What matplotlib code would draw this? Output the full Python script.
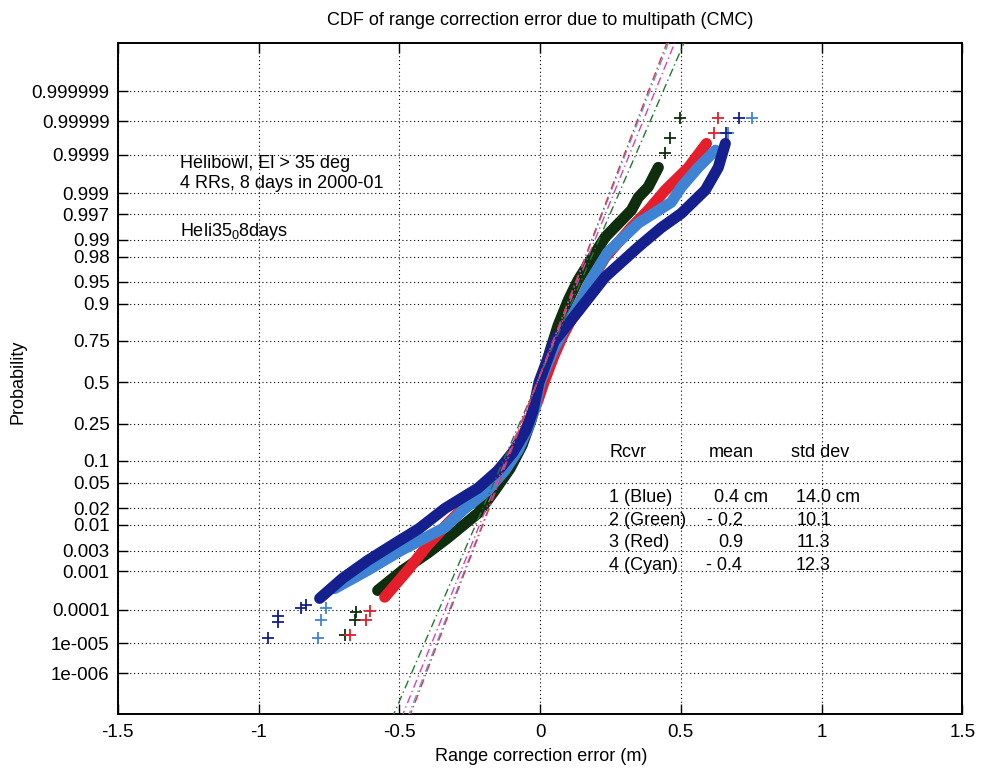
import math
import numpy as np
import matplotlib
matplotlib.use("Agg")
import matplotlib.pyplot as plt
from matplotlib.ticker import FixedLocator, NullLocator

plt.rcParams['font.family'] = ['Liberation Sans', 'DejaVu Sans']
plt.rcParams['mathtext.fontset'] = 'custom'
plt.rcParams['mathtext.rm'] = 'Liberation Sans'

# ---- data (x in metres, y as cumulative probability) ----
blue_x = [-0.783, -0.701, -0.612, -0.515, -0.43, -0.338, -0.221, -0.149, -0.096, -0.050,
          -0.025, -0.004, 0.05, 0.11, 0.231, 0.349, 0.43, 0.502, 0.587, 0.633, 0.658]
blue_p = [2.08e-4, 6.87e-4, 1.81e-3, 4.27e-3, 8.43e-3, 0.0197, 0.0418, 0.0749, 0.127, 0.2177,
          0.3228, 0.5, 0.7486, 0.8438, 0.9573, 0.98645, 0.9942, 0.99711, 0.999155, 0.999776, 0.999952]
blue_tail_x = [-0.968, -0.932, -0.932, -0.851, -0.833, 0.662, 0.705]
blue_tail_p = [1.52e-5, 4.43e-5, 6.95e-5, 1.17e-4, 1.36e-4, 0.9999765, 0.9999918]

cyan_x = [-0.73, -0.612, -0.495, -0.338, -0.274, -0.185, -0.125, -0.078, -0.043, -0.018,
          0.0, 0.046, 0.093, 0.146, 0.18, 0.24, 0.349, 0.466, 0.502, 0.562, 0.623]
cyan_p = [3.76e-4, 1.07e-3, 2.98e-3, 8.9e-3, 0.0183, 0.0392, 0.0749, 0.1335, 0.2266, 0.3372,
          0.5, 0.6985, 0.8238, 0.9099, 0.9525, 0.983, 0.99534, 0.99836, 0.999289, 0.999776, 0.999925]
cyan_tail_x = [-0.79, -0.779, -0.762, 0.669, 0.751]
cyan_tail_p = [1.52e-5, 5.0e-5, 1.12e-4, 0.9999765, 0.9999918]

red_x = [-0.552, -0.47, -0.399, -0.327, -0.256, -0.185, -0.125, -0.078, -0.036, -0.007,
         0.014, 0.05, 0.082, 0.128, 0.171, 0.231, 0.324, 0.384, 0.445, 0.527, 0.573, 0.591]
red_p = [2.24e-4, 1.07e-3, 3.91e-3, 0.0107, 0.0239, 0.0516, 0.0951, 0.1515, 0.2676, 0.3859,
         0.5, 0.67, 0.7794, 0.881, 0.9429, 0.9793, 0.9943, 0.99752, 0.999155, 0.999776, 0.999925, 0.999952]
red_tail_x = [-0.676, -0.619, -0.605, 0.616, 0.633]
red_tail_p = [1.81e-5, 5.0e-5, 9.57e-5, 0.9999765, 0.9999918]

green_x = [-0.577, -0.488, -0.399, -0.33, -0.221, -0.16, -0.107, -0.064, -0.032, -0.007,
           0.011, 0.036, 0.064, 0.1, 0.135, 0.231, 0.324, 0.349, 0.384, 0.42]
green_p = [3.37e-4, 1.07e-3, 2.64e-3, 5.39e-3, 0.0162, 0.0392, 0.0793, 0.1515, 0.2676, 0.4168,
           0.5438, 0.6985, 0.8238, 0.9099, 0.9525, 0.9911, 0.99752, 0.99874, 0.999289, 0.999776]
green_tail_x = [-0.694, -0.658, -0.655, 0.445, 0.463, 0.498]
green_tail_p = [1.81e-5, 5.0e-5, 8.5e-5, 0.999908, 0.999968, 0.9999918]

# dashed reference lines: x at p = 1e-9 and p = 1 - 1e-9
fit_p = [1e-9, 1 - 1e-9]
fit_green_x = [-0.574, 0.554]
fit_magenta_x = [-0.538, 0.518]
fit_cyan_x = [-0.514, 0.494]
fit_red_x = [-0.508, 0.488]

ytick_vals = [1e-6, 1e-5, 1e-4, 1e-3, 3e-3, 0.01, 0.02, 0.05, 0.1, 0.25, 0.5, 0.75,
              0.9, 0.95, 0.98, 0.99, 0.997, 0.999, 0.9999, 0.99999, 0.999999]
ytick_labels = ['1e-006', '1e-005', '0.0001', '0.001', '0.003', '0.01', '0.02', '0.05',
                '0.1', '0.25', '0.5', '0.75', '0.9', '0.95', '0.98', '0.99', '0.997',
                '0.999', '0.9999', '0.99999', '0.999999']
xtick_vals = [-1.5, -1, -0.5, 0, 0.5, 1, 1.5]
xtick_labels = ['-1.5', '-1', '-0.5', '0', '0.5', '1', '1.5']

rcvr_labels = ['1 (Blue)', '2 (Green)', '3 (Red)', '4 (Cyan)']
mean_labels = ['0.4 cm', '- 0.2', '0.9', '- 0.4']
std_labels = ['14.0 cm', '10.1', '11.3', '12.3']


# ---- normal probability scale ----
_a = [-3.969683028665376e+01, 2.209460984245205e+02, -2.759285104469687e+02,
      1.383577518672690e+02, -3.066479806614716e+01, 2.506628277459239e+00]
_b = [-5.447609879822406e+01, 1.615858368580409e+02, -1.556989798598866e+02,
      6.680131188771972e+01, -1.328068155288572e+01]
_c = [-7.784894002430293e-03, -3.223964580411365e-01, -2.400758277161838e+00,
      -2.549671669598563e+00, 4.374664141464968e+00, 2.938163982698783e+00]
_d = [7.784695709041462e-03, 3.224671290700398e-01, 2.445134137142996e+00,
      3.754408661907416e+00]

_erfc = np.vectorize(math.erfc)


def norm_cdf(z):
    z = np.asarray(z, dtype=float)
    return 0.5 * _erfc(-z / math.sqrt(2.0))


def probit(p):
    p = np.clip(np.asarray(p, dtype=float), 1e-300, 1 - 1e-16)
    q = p - 0.5
    r = q * q
    mid = (((((_a[0]*r + _a[1])*r + _a[2])*r + _a[3])*r + _a[4])*r + _a[5]) * q / \
          (((((_b[0]*r + _b[1])*r + _b[2])*r + _b[3])*r + _b[4])*r + 1)
    t = np.sqrt(-2 * np.log(np.minimum(p, 1 - p)))
    tail = (((((_c[0]*t + _c[1])*t + _c[2])*t + _c[3])*t + _c[4])*t + _c[5]) / \
           ((((_d[0]*t + _d[1])*t + _d[2])*t + _d[3])*t + 1)
    tail = np.where(p < 0.5, tail, -tail)
    return np.where(np.abs(q) <= 0.5 - 0.02425, mid, tail)


fig = plt.figure(figsize=(9.82, 7.70), dpi=100)
ax = fig.add_axes([0.120, 0.0727, 0.860, 0.8714])
ax.set_yscale('function', functions=(probit, norm_cdf))

series = [
    (green_x, green_p, green_tail_x, green_tail_p, '#0e2e0e'),
    (red_x, red_p, red_tail_x, red_tail_p, '#e41e2a'),
    (cyan_x, cyan_p, cyan_tail_x, cyan_tail_p, '#3f84d4'),
    (blue_x, blue_p, blue_tail_x, blue_tail_p, '#15208e'),
]
for bx, bp, tx, tp, col in series:
    ax.plot(bx, bp, color=col, lw=8, solid_capstyle='round', solid_joinstyle='round', zorder=3)
    ax.plot(tx, tp, '+', color=col, ms=8, mew=1.3, zorder=3, linestyle='none')

dash = (0, (6, 2.5, 1, 2.5))
for fx, col in [(fit_green_x, '#23782e'), (fit_magenta_x, '#e040b0'),
                (fit_cyan_x, '#4aa6e6'), (fit_red_x, '#f0303c')]:
    ax.plot(fx, fit_p, color=col, lw=1.0, linestyle=dash, zorder=4)

ax.set_xlim(-1.5, 1.5)
ax.set_ylim(3e-8, 1 - 1.5e-8)
ax.xaxis.set_major_locator(FixedLocator(xtick_vals))
ax.set_xticklabels(xtick_labels)
ax.yaxis.set_major_locator(FixedLocator(ytick_vals))
ax.yaxis.set_minor_locator(NullLocator())
ax.set_yticklabels(ytick_labels)
ax.tick_params(axis='both', direction='in', length=7, width=1, top=True, right=True,
               labelsize=13.5, colors='black')
ax.tick_params(axis='x', pad=7)
ax.tick_params(axis='y', pad=6)
ax.grid(True, color='black', linestyle=(0, (1, 2.5)), linewidth=0.8)
ax.set_axisbelow(True)
for s in ax.spines.values():
    s.set_linewidth(1.4)

ax.set_title('CDF of range correction error due to multipath (CMC)', fontsize=13, pad=13)
ax.set_xlabel('Range correction error (m)', fontsize=13, va='center')
ax.set_ylabel('Probability', fontsize=13, va='center')
ax.xaxis.set_label_coords(0.501, -0.064)
ax.yaxis.set_label_coords(-0.118, 0.495)

tk = dict(transform=ax.transAxes, fontsize=13, va='center', ha='left')
ax.text(0.0735, 0.821, 'Helibowl, El > 35 deg', **tk)
ax.text(0.0735, 0.791, '4 RRs, 8 days in 2000-01', **tk)
ax.text(0.0735, 0.719, r'$\mathregular{Heli35_0 8days}$', **tk)

ax.text(0.582, 0.390, 'Rcvr', **tk)
ax.text(0.700, 0.390, 'mean', **tk)
ax.text(0.797, 0.390, 'std dev', **tk)
row_y = [0.323, 0.289, 0.255, 0.221]
mean_x = [0.706, 0.698, 0.711, 0.696]
std_x = [0.803, 0.804, 0.804, 0.802]
for i in range(4):
    ax.text(0.582, row_y[i], rcvr_labels[i], **tk)
    ax.text(mean_x[i], row_y[i], mean_labels[i], **tk)
    ax.text(std_x[i], row_y[i], std_labels[i], **tk)

fig.savefig('out.png', dpi=100)
